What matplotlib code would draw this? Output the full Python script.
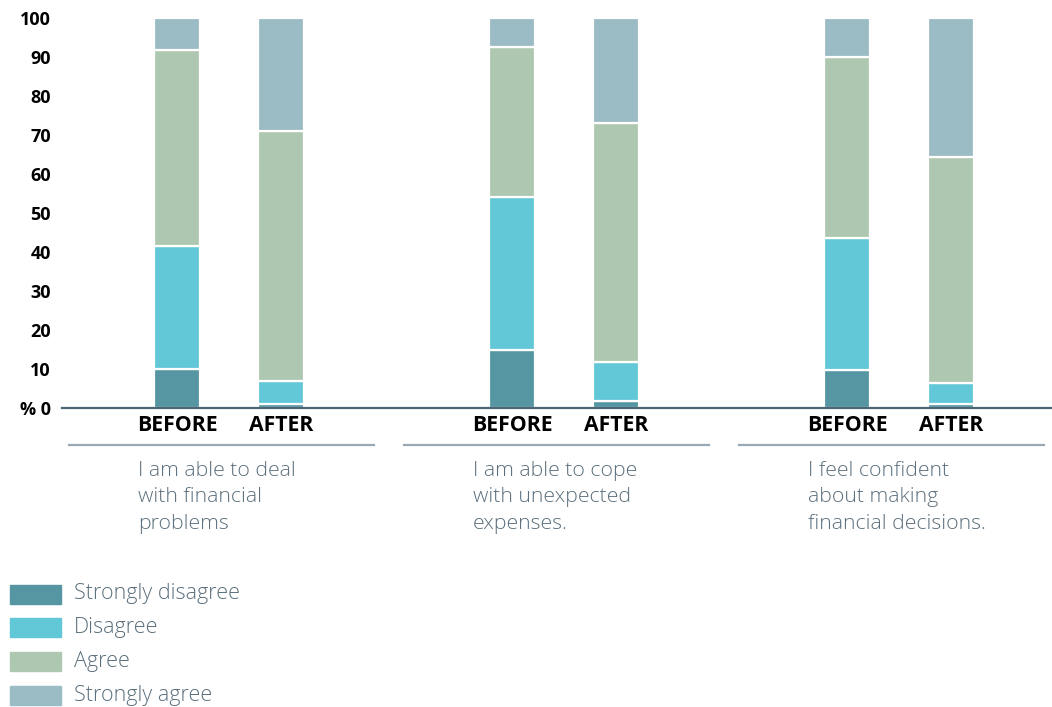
import matplotlib
matplotlib.use('Agg')
from matplotlib import pyplot as plt
from matplotlib.patches import Rectangle
from matplotlib.transforms import blended_transform_factory
import numpy as np

# data (percent)
statements = ['I am able to deal\nwith financial\nproblems',
              'I am able to cope\nwith unexpected\nexpenses.',
              'I feel confident\nabout making\nfinancial decisions.']
periods = ['BEFORE', 'AFTER']
responses = ['Strongly disagree', 'Disagree', 'Agree', 'Strongly agree']
# order: g1 before, g1 after, g2 before, g2 after, g3 before, g3 after
strongly_disagree = [10.0, 1.1, 15.0, 1.7, 9.7, 1.0]
disagree = [31.5, 5.7, 39.1, 10.1, 33.8, 5.3]
agree = [50.2, 64.1, 38.5, 61.3, 46.4, 58.1]
strongly_agree = [8.3, 29.1, 7.4, 26.9, 10.1, 35.6]
yticks = [0, 10, 20, 30, 40, 50, 60, 70, 80, 90, 100]

colors = ['#5596a2', '#62c8d7', '#aec7b0', '#9bbbc5']
text_col = '#5b6f7c'

plt.rcParams['font.family'] = ['Open Sans', 'DejaVu Sans']

fig = plt.figure(figsize=(10.52, 7.07), dpi=100)
W, H = 1052, 707
ax = fig.add_axes([62 / W, 1 - 408 / H, 1 - 62 / W, 390 / H])

group_gap = 335
pair_gap = 104
bar_w = 46
bases = np.arange(len(statements)) * group_gap + 115
xpos = np.ravel([[b, b + pair_gap] for b in bases])

series = [strongly_disagree, disagree, agree, strongly_agree]
bottom = np.zeros(len(xpos))
for vals, c in zip(series, colors):
    ax.bar(xpos, vals, bottom=bottom, width=bar_w, color=c,
           edgecolor='white', linewidth=1.6, zorder=2, clip_on=False)
    bottom += np.array(vals)

ax.set_xlim(0, 990)
ax.set_ylim(0, 100)
for s in ['top', 'right', 'left']:
    ax.spines[s].set_visible(False)
ax.spines['bottom'].set_color('#4d6575')
ax.spines['bottom'].set_linewidth(1.6)
ax.spines['bottom'].set_zorder(3)

ax.set_yticks(yticks)
ax.set_yticklabels(['% 0' if t == 0 else str(t) for t in yticks],
                   fontsize=13, fontweight='bold', color='black')
ax.tick_params(axis='y', length=0, pad=8)
ax.set_xticks(xpos)
ax.set_xticklabels(periods * len(statements), fontsize=15.3, fontweight='bold')
ax.tick_params(axis='x', length=0, pad=5)

trans = blended_transform_factory(ax.transData, ax.transAxes)
for b, st in zip(bases, statements):
    ax.plot([b - 108, b + 197], [-0.094, -0.094], color='#9aa8b4',
            linewidth=1.6, transform=trans, clip_on=False)
    ax.text(b - 39, -0.136, st, transform=trans, ha='left', va='top',
            fontsize=15.3, fontweight='light', color=text_col, linespacing=1.42)

# legend
for i, (lab, c) in enumerate(zip(responses, colors)):
    yc = 594 + i * 33.8
    fig.add_artist(Rectangle((10 / W, 1 - (yc + 9.5) / H), 51 / W, 19 / H,
                             transform=fig.transFigure, color=c))
    fig.text(74 / W, 1 - yc / H, lab, ha='left', va='center',
             fontsize=15.5, fontweight='light', color=text_col)

plt.savefig('out.png', dpi=100)
